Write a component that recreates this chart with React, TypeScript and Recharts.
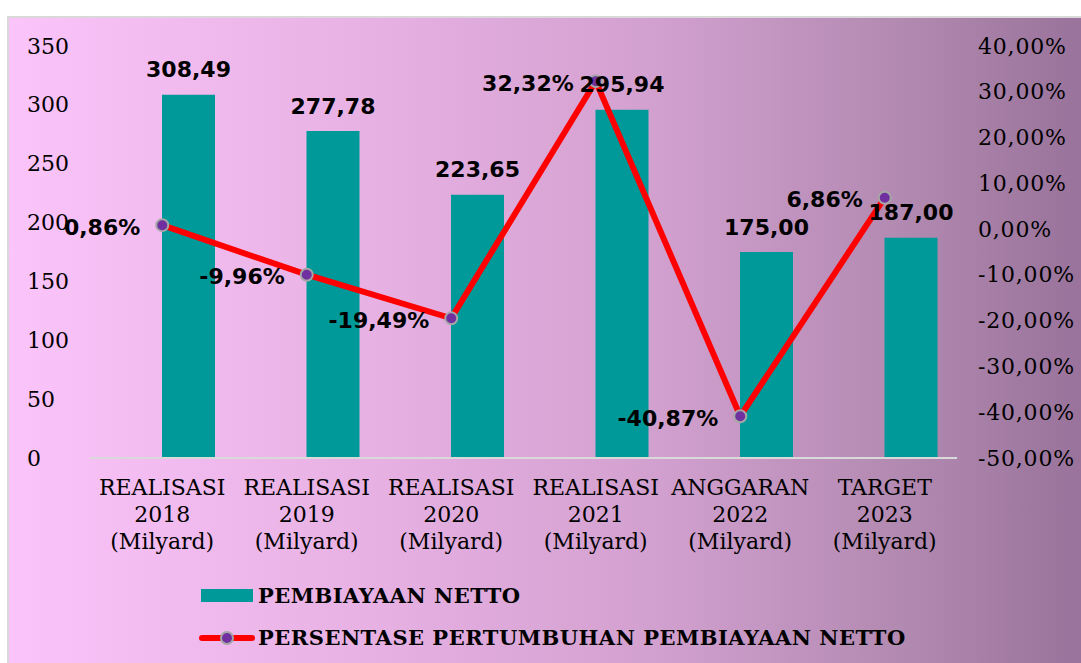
import React from 'react';
import { ComposedChart, Bar, Line, XAxis, YAxis, LabelList } from 'recharts';

const categories = [
  ['REALISASI', '2018', '(Milyard)'],
  ['REALISASI', '2019', '(Milyard)'],
  ['REALISASI', '2020', '(Milyard)'],
  ['REALISASI', '2021', '(Milyard)'],
  ['ANGGARAN', '2022', '(Milyard)'],
  ['TARGET', '2023', '(Milyard)'],
];
const pembiayaanNetto = [308.49, 277.78, 223.65, 295.94, 175.0, 187.0];
const pertumbuhan = [0.86, -9.96, -19.49, 32.32, -40.87, 6.86];
const leftTicks = [0, 50, 100, 150, 200, 250, 300, 350];
const rightTicks = [-50, -40, -30, -20, -10, 0, 10, 20, 30, 40];

const data = categories.map((lines, i) => ({
  name: lines.join(' '),
  lines,
  spacer: 0,
  netto: pembiayaanNetto[i],
  growth: pertumbuhan[i],
}));

const comma = (v: number) => v.toFixed(2).replace('.', ',');

const TICK_FONT = "'DejaVu Serif', serif";
const LABEL_FONT = "'DejaVu Sans', sans-serif";

const LeftTick = (props: any) => {
  const { y, payload } = props;
  return (
    <text x={27} y={y} dominantBaseline="central" textAnchor="start"
      fontFamily={TICK_FONT} fontSize={22} fill="#000">
      {payload.value}
    </text>
  );
};

const RightTick = (props: any) => {
  const { y, payload } = props;
  return (
    <text x={978} y={y} dominantBaseline="central" textAnchor="start"
      fontFamily={TICK_FONT} fontSize={22} letterSpacing={0.8} fill="#000">
      {comma(payload.value)}%
    </text>
  );
};

const CatTick = (props: any) => {
  const { x, y, index } = props;
  const lines = categories[index] || [];
  return (
    <text x={x} y={y} textAnchor="middle" fontFamily={TICK_FONT} fontSize={22} fill="#000">
      {lines.map((l, i) => (
        <tspan key={i} x={x} y={y + 21 + i * 27} dominantBaseline="central">{l}</tspan>
      ))}
    </text>
  );
};

const BarLabel = (props: any) => {
  const { x, y, width, value } = props;
  return (
    <text x={x + width / 2} y={y - 25} textAnchor="middle" dominantBaseline="central"
      fontFamily={LABEL_FONT} fontWeight="bold" fontSize={22} fill="#000">
      {comma(value)}
    </text>
  );
};

const LineLabel = (props: any) => {
  const { x, y, value } = props;
  return (
    <text x={x - 22} y={y + 2} textAnchor="end" dominantBaseline="central"
      fontFamily={LABEL_FONT} fontWeight="bold" fontSize={22} fill="#000">
      {comma(value)}%
    </text>
  );
};

const legendText: React.CSSProperties = {
  position: 'absolute',
  left: 258,
  fontFamily: TICK_FONT,
  fontWeight: 'bold',
  fontSize: 21,
  letterSpacing: 0.5,
  lineHeight: '24px',
  color: '#000',
  whiteSpace: 'nowrap',
};

export default function App() {
  return (
    <div style={{ position: 'absolute', left: 0, top: 0, width: 1081, height: 663, background: '#fff', overflow: 'hidden' }}>
      <div
        style={{
          position: 'absolute', left: 7, top: 16, width: 1080, height: 660,
          borderLeft: '2px solid #d9d9d9', borderTop: '2px solid #d9d9d9',
          background: 'linear-gradient(to right, #fbc4fa 0%, #e6b0e2 35%, #d2a0cf 60%, #b38ab2 82%, #98729a 100%)',
        }}
      />
      <div style={{ position: 'absolute', left: 0, top: 0 }}>
        <ComposedChart width={1081} height={663} data={data}
          margin={{ top: 46, right: 24, bottom: 95, left: 30 }} barGap={0}>
          <XAxis dataKey="name" height={110} tick={<CatTick />} tickLine={false}
            axisLine={{ stroke: '#d9d9d9', strokeWidth: 2 }} interval={0} />
          <YAxis yAxisId="left" width={60} domain={[0, 350]} ticks={leftTicks}
            tick={<LeftTick />} axisLine={false} tickLine={false} />
          <YAxis yAxisId="right" orientation="right" width={100} domain={[-50, 40]}
            ticks={rightTicks} tick={<RightTick />} axisLine={false} tickLine={false} />
          <Bar yAxisId="left" dataKey="spacer" barSize={53} fill="transparent" isAnimationActive={false} />
          <Bar yAxisId="left" dataKey="netto" barSize={53} fill="#009999" isAnimationActive={false}>
            <LabelList dataKey="netto" content={<BarLabel />} />
          </Bar>
          <Line yAxisId="right" type="linear" dataKey="growth" stroke="#ff0000" strokeWidth={6}
            dot={{ r: 6, fill: '#7030a0', stroke: '#a6a6a6', strokeWidth: 2 }}
            activeDot={false} isAnimationActive={false}>
            <LabelList dataKey="growth" content={<LineLabel />} />
          </Line>
        </ComposedChart>
      </div>
      <svg style={{ position: 'absolute', left: 195, top: 583 }} width={64} height={64}>
        <rect x={6} y={6} width={52} height={13} fill="#009999" />
        <line x1={7} y1={55} x2={57} y2={55} stroke="#ff0000" strokeWidth={6} strokeLinecap="round" />
        <circle cx={32} cy={55} r={6} fill="#7030a0" stroke="#a6a6a6" strokeWidth={2} />
      </svg>
      <div style={{ ...legendText, top: 584 }}>PEMBIAYAAN NETTO</div>
      <div style={{ ...legendText, top: 626 }}>PERSENTASE PERTUMBUHAN PEMBIAYAAN NETTO</div>
    </div>
  );
}
